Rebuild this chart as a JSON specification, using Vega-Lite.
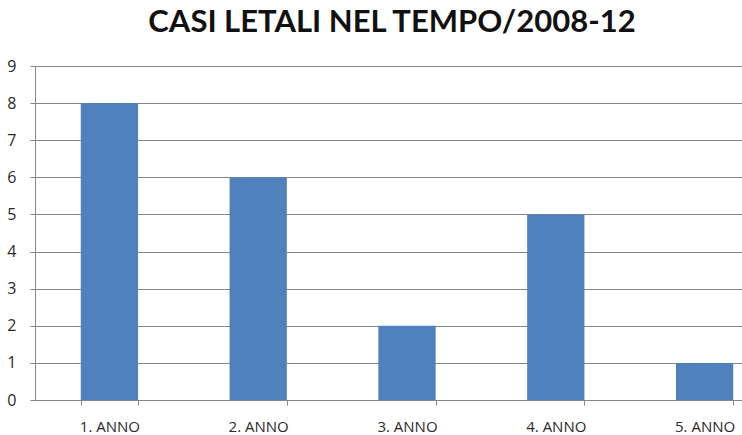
{
  "$schema": "https://vega.github.io/schema/vega-lite/v6.json",
  "width": 744,
  "height": 334,
  "autosize": "none",
  "padding": {"left": 35, "top": 66, "right": 0, "bottom": 35},
  "background": "white",
  "title": {
    "text": "CASI LETALI NEL TEMPO/2008-12",
    "font": "Lato",
    "fontSize": 31,
    "fontWeight": "bold",
    "color": "#111111",
    "anchor": "middle",
    "frame": "group",
    "dx": -15,
    "offset": 19
  },
  "data": {
    "values": [
      {"anno": "1. ANNO", "casi": 8},
      {"anno": "2. ANNO", "casi": 6},
      {"anno": "3. ANNO", "casi": 2},
      {"anno": "4. ANNO", "casi": 5},
      {"anno": "5. ANNO", "casi": 1}
    ]
  },
  "mark": {"type": "bar", "color": "#4F81BD"},
  "encoding": {
    "x": {
      "field": "anno",
      "type": "nominal",
      "sort": null,
      "title": null,
      "scale": {"paddingInner": 0.615, "paddingOuter": 0.3075},
      "axis": {
        "labelAngle": 0,
        "labelFont": "Open Sans",
        "labelFontSize": 15,
        "labelColor": "#2a2a2a",
        "labelPadding": 14,
        "domainColor": "#868686",
        "tickColor": "#868686",
        "tickSize": 5,
        "tickBand": "extent",
        "grid": false
      }
    },
    "y": {
      "field": "casi",
      "type": "quantitative",
      "title": null,
      "scale": {"domain": [0, 9], "nice": false},
      "axis": {
        "values": [0, 1, 2, 3, 4, 5, 6, 7, 8, 9],
        "labelFont": "Open Sans",
        "labelFontSize": 16,
        "labelColor": "#2a2a2a",
        "labelPadding": 14,
        "domainColor": "#868686",
        "tickColor": "#868686",
        "tickSize": 5,
        "gridColor": "#868686",
        "gridOpacity": 1
      }
    }
  },
  "config": {"view": {"stroke": null}}
}
